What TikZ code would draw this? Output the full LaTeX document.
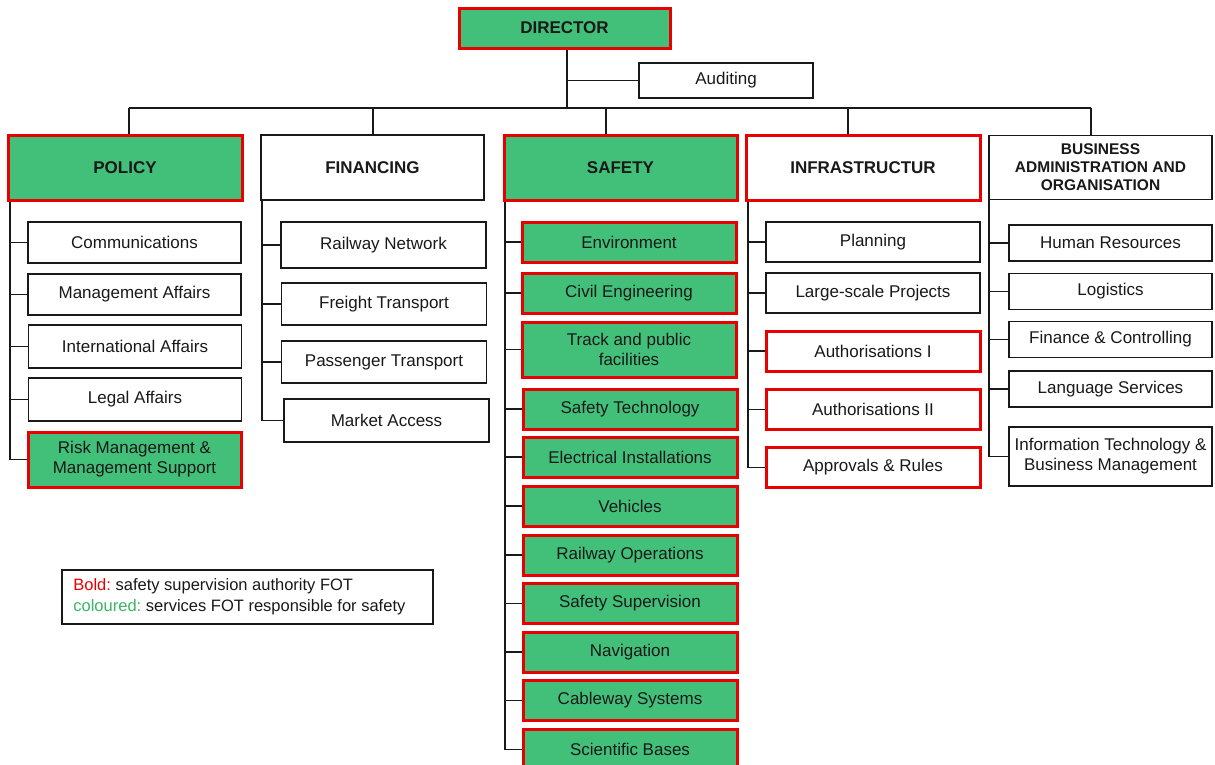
\documentclass[tikz,border=0pt]{standalone}
\usepackage{fontspec}
\setmainfont{Liberation Sans}
\frenchspacing
\definecolor{fotgreen}{RGB}{66,192,122}
\definecolor{fotred}{RGB}{232,0,0}
\definecolor{legreen}{RGB}{60,180,100}
\definecolor{ink}{RGB}{25,25,25}
\tikzset{
  box/.style={draw=ink, line width=1.6pt, fill=white, text=ink, align=center, inner sep=0pt,
    font=\fontsize{17}{20}\selectfont},
  gbox/.style={box, fill=fotgreen, draw=fotred, line width=3pt},
  rbox/.style={box, draw=fotred, line width=3pt},
  headf/.style={font=\fontsize{17}{18}\selectfont\bfseries},
  conn/.style={draw=ink, line width=1.6pt},
  polc/.style={minimum width=213pt},
  finc/.style={minimum width=205pt},
  safc/.style={minimum width=214pt, minimum height=40pt},
  infc/.style={minimum width=214pt, minimum height=40pt},
  busc/.style={minimum width=204pt, minimum height=36pt},
}
\begin{document}
\begin{tikzpicture}[x=1pt,y=-1pt]
\clip (0,0) rectangle (1215,764);
\fill[white] (0,0) rectangle (1215,764);

% top
\node[gbox, headf, minimum width=211pt, minimum height=40pt] (dir) at (564.5,28) {DIRECTOR};
\node[box, minimum width=174pt, minimum height=35pt] (aud) at (726,80.5) {Auditing};

% heads
\node[gbox, headf, minimum width=234pt, minimum height=65pt] (pol) at (125,167.5) {POLICY};
\node[box, headf, minimum width=223pt, minimum height=65pt] (fin) at (372.5,167.5) {FINANCING};
\node[gbox, headf, minimum width=233pt, minimum height=65pt] (saf) at (620.5,167.5) {SAFETY};
\node[rbox, headf, minimum width=234pt, minimum height=65pt] (inf) at (863,167.5) {INFRASTRUCTUR};
\node[box, headf, font=\fontsize{15.5}{18}\selectfont\bfseries, minimum width=223pt, minimum height=64pt] (bus) at (1100.5,167.5) {BUSINESS\\ADMINISTRATION AND\\ORGANISATION};

% bus connectors
\coordinate (dd) at (567,108);
\coordinate (d1) at (129,108);
\coordinate (d2) at (373,108);
\coordinate (d3) at (606,108);
\coordinate (d4) at (848,108);
\coordinate (d5) at (1091,108);
\draw[conn] (dd |- dir.south) -- (dd);
\draw[conn] (aud.west) -- (aud.west -| dd);
\draw[conn] (d1) -- (d5);
\draw[conn] (d1) -- (d1 |- pol.north);
\draw[conn] (d2) -- (d2 |- fin.north);
\draw[conn] (d3) -- (d3 |- saf.north);
\draw[conn] (d4) -- (d4 |- inf.north);
\draw[conn] (d5) -- (d5 |- bus.north);

% policy children
\node[box, polc, minimum height=41pt] (p1) at (134.5,242.5) {Communications};
\node[box, polc, minimum height=41pt] (p2) at (134.5,294.5) {Management Affairs};
\node[box, polc, minimum height=43pt] (p3) at (135,346.5) {International Affairs};
\node[box, polc, minimum height=43pt] (p4) at (135,399.5) {Legal Affairs};
\node[gbox, polc, minimum height=55pt] (p5) at (134.5,459.5) {Risk Management \&\\Management Support};

% financing children
\node[box, finc, minimum height=46pt] (f1) at (383.5,245) {Railway Network};
\node[box, finc, minimum height=42pt] (f2) at (384,304) {Freight Transport};
\node[box, finc, minimum height=42pt] (f3) at (384,362) {Passenger Transport};
\node[box, finc, minimum height=43pt] (f4) at (386.5,420.5) {Market Access};

% safety children
\node[gbox, safc] (s1) at (629,242) {Environment};
\node[gbox, safc] (s2) at (629,293) {Civil Engineering};
\node[gbox, safc, minimum height=55pt] (s3) at (629,349.5) {Track and public\\facilities};
\node[gbox, safc] (s4) at (630,409) {Safety Technology};
\node[gbox, safc] (s5) at (630,457) {Electrical Installations};
\node[gbox, safc] (s6) at (630,506) {Vehicles};
\node[gbox, safc] (s7) at (630,555) {Railway Operations};
\node[gbox, safc] (s8) at (630,603.5) {Safety Supervision};
\node[gbox, safc] (s9) at (630,652) {Navigation};
\node[gbox, safc] (s10) at (630,700.5) {Cableway Systems};
\node[gbox, safc] (s11) at (630,749.5) {Scientific Bases};

% infrastructure children
\node[box, infc] (i1) at (873,242) {Planning};
\node[box, infc] (i2) at (873,293) {Large-scale Projects};
\node[rbox, infc] (i3) at (873,351) {Authorisations I};
\node[rbox, infc] (i4) at (873,409.5) {Authorisations II};
\node[rbox, infc] (i5) at (873,467.5) {Approvals \& Rules};

% business children
\node[box, busc, minimum width=203pt] (b1) at (1110.5,243) {Human Resources};
\node[box, busc, minimum width=203pt] (b2) at (1110.5,291.5) {Logistics};
\node[box, busc, minimum width=203pt] (b3) at (1110.5,339.5) {Finance \& Controlling};
\node[box, busc, minimum width=203pt] (b4) at (1110.5,389) {Language Services};
\node[box, busc, minimum width=203pt, minimum height=59pt] (b5) at (1110.5,456.5) {Information Technology \&\\Business Management};

% spines
\coordinate (sp1) at (10,0);
\coordinate (sp2) at (262,0);
\coordinate (sp3) at (505,0);
\coordinate (sp4) at (748,0);
\coordinate (sp5) at (989,0);
\draw[conn] (sp1 |- pol.south) -- (sp1 |- p5.west);
\foreach \c in {p1,p2,p3,p4,p5} \draw[conn] (\c.west) -- (\c.west -| sp1);
\draw[conn] (sp2 |- fin.south) -- (sp2 |- f4.west);
\foreach \c in {f1,f2,f3,f4} \draw[conn] (\c.west) -- (\c.west -| sp2);
\draw[conn] (sp3 |- saf.south) -- (sp3 |- s11.west);
\foreach \c in {s1,s2,s3,s4,s5,s6,s7,s8,s9,s10,s11} \draw[conn] (\c.west) -- (\c.west -| sp3);
\draw[conn] (sp4 |- inf.south) -- (sp4 |- i5.west);
\foreach \c in {i1,i2,i3,i4,i5} \draw[conn] (\c.west) -- (\c.west -| sp4);
\draw[conn] (sp5 |- bus.south) -- (sp5 |- b5.west);
\foreach \c in {b1,b2,b3,b4,b5} \draw[conn] (\c.west) -- (\c.west -| sp5);

% legend
\node[box, minimum width=371pt, minimum height=54pt] (leg) at (247.5,597) {};
\node[anchor=west, inner sep=0pt, align=left, text=ink, font=\fontsize{16.5}{21}\selectfont]
  (legtxt) at ([xshift=12pt]leg.west)
  {\textcolor{fotred}{Bold:} safety supervision authority FOT\\\textcolor{legreen}{coloured:} services FOT responsible for safety};
\end{tikzpicture}
\end{document}
